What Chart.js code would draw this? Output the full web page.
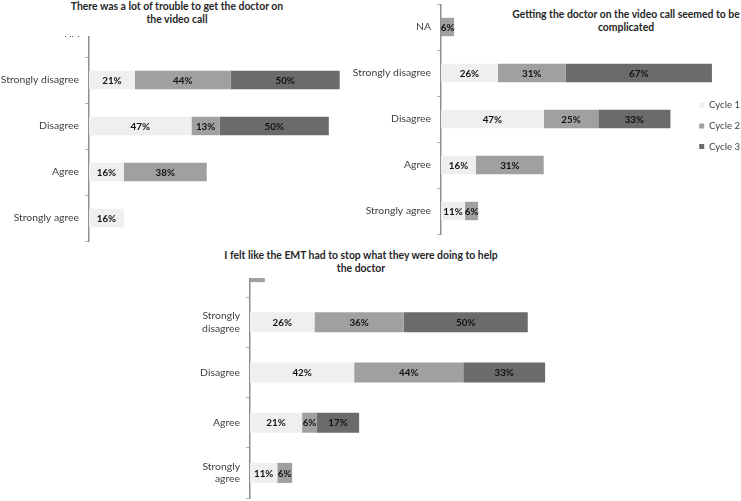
<!DOCTYPE html>
<html><head><meta charset="utf-8">
<script src="https://cdn.jsdelivr.net/npm/chart.js@4.4.1/dist/chart.umd.min.js"></script>
<style>
html,body{margin:0;padding:0;background:#fff;overflow:hidden;width:741px;height:501px;}
.clip{position:absolute;overflow:hidden;}
.clip canvas{position:absolute;left:0;}
.title{position:absolute;font:bold 10.4px Lato,sans-serif;color:#262626;text-align:center;line-height:12.5px;white-space:nowrap;}
</style></head>
<body>
<div class="title" id="t1" style="left:27px;top:0px;width:300px;">There was a lot of trouble to get the doctor on<br>the video call</div>
<div class="title" id="t2" style="left:476px;top:8px;width:300px;">Getting the doctor on the video call seemed to be<br>complicated</div>
<div class="title" id="t3" style="left:211px;top:249px;width:300px;">I felt like the EMT had to stop what they were doing to help<br>the doctor</div>
<div class="clip" style="left:0;top:36px;width:345px;height:207px;"><canvas id="c1" width="345" height="232" style="top:-25px"></canvas></div>
<div class="clip" style="left:345px;top:0;width:405px;height:240px;"><canvas id="c2" width="405" height="232" style="top:4px"></canvas></div>
<div class="clip" style="left:170px;top:278px;width:430px;height:223px;"><canvas id="c3" width="430" height="253" style="top:-31px"></canvas></div>
<script>
// ---- data ----
const categories = ['NA', 'Strongly disagree', 'Disagree', 'Agree', 'Strongly agree'];
const categoriesWrapped = ['NA', ['Strongly', 'disagree'], 'Disagree', 'Agree', ['Strongly', 'agree']];
const seriesNames = ['Cycle 1', 'Cycle 2', 'Cycle 3'];

const troubleCycle1 = [null, 21, 47, 16, 16];
const troubleCycle2 = [null, 44, 13, 38, null];
const troubleCycle3 = [null, 50, 50, null, null];

const complicatedCycle1 = [null, 26, 47, 16, 11];
const complicatedCycle2 = [6, 31, 25, 31, 6];
const complicatedCycle3 = [null, 67, 33, null, null];

const emtCycle1 = [null, 26, 42, 21, 11];
const emtCycle2 = [6, 36, 44, 6, 6];
const emtCycle3 = [null, 50, 33, 17, null];

const seriesColors = ['#efefef', '#a0a0a0', '#6b6b6b'];
const FONT = 'Lato';

Chart.defaults.font.family = FONT;
Chart.defaults.color = '#404040';

const barLabels = {
  id: 'barLabels',
  afterDatasetsDraw(chart) {
    const ctx = chart.ctx;
    ctx.save();
    ctx.font = 'bold 9.8px ' + FONT;
    ctx.fillStyle = '#111111';
    ctx.textAlign = 'center';
    ctx.textBaseline = 'middle';
    chart.data.datasets.forEach((ds, i) => {
      const meta = chart.getDatasetMeta(i);
      meta.data.forEach((bar, j) => {
        const v = ds.data[j];
        if (v == null) return;
        const p = bar.getProps(['x', 'y', 'base'], true);
        ctx.fillText(v + '%', (p.x + p.base) / 2, p.y + 0.5);
      });
    });
    ctx.restore();
  }
};

const legendShift = {
  id: 'legendShift',
  afterLayout(chart, args, opts) {
    if (chart.legend && opts.dy) { chart.legend.top += opts.dy; chart.legend.bottom += opts.dy; }
  }
};

function makeChart(id, labels, c1, c2, c3, axisWidth, pxPerUnit, showLegend) {
  const data = [c1, c2, c3];
  const chart = new Chart(document.getElementById(id), {
    type: 'bar',
    data: {
      labels: labels,
      datasets: seriesNames.map((n, i) => ({
        label: n, data: data[i], backgroundColor: seriesColors[i],
        borderWidth: 0, barPercentage: 0.4, categoryPercentage: 1, clip: false
      }))
    },
    options: {
      indexAxis: 'y',
      responsive: false,
      animation: false,
      layout: { padding: { bottom: 2, top: 0, left: 0, right: 0 } },
      scales: {
        x: { stacked: true, display: false, min: 0, max: 120 },
        y: {
          stacked: true,
          afterFit(s) { s.width = axisWidth; s.paddingTop = 0; s.paddingBottom = 0; },
          grid: { display: true, drawOnChartArea: false, drawTicks: true, tickLength: 4, offset: true, color: '#b0b0b0' },
          border: { display: true, color: '#8f8f8f', width: 1.5 },
          ticks: { padding: 6, color: '#404040', font: { size: 10.4, family: FONT }, lineHeight: 1.2 }
        }
      },
      plugins: {
        legend: showLegend ? {
          display: true, position: 'right',
          labels: { boxWidth: 5, boxHeight: 5, padding: 11, color: '#404040', font: { size: 9.6, family: FONT } }
        } : { display: false },
        legendShift: { dy: 7 },
        tooltip: { enabled: false },
        title: { display: false }
      }
    },
    plugins: [barLabels, legendShift]
  });
  const w = chart.chartArea.right - chart.chartArea.left;
  chart.options.scales.x.max = w / pxPerUnit;
  chart.update('none');
  return chart;
}

makeChart('c1', categories, troubleCycle1, troubleCycle2, troubleCycle3, 89, 2.18, false);
makeChart('c2', categories, complicatedCycle1, complicatedCycle2, complicatedCycle3, 96, 2.185, true);
makeChart('c3', categoriesWrapped, emtCycle1, emtCycle2, emtCycle3, 80, 2.48, false);
</script>
</body></html>
